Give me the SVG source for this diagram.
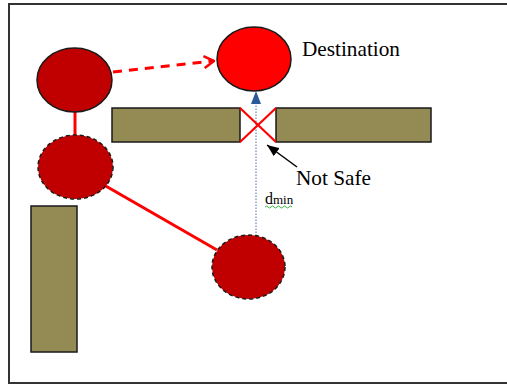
<svg xmlns="http://www.w3.org/2000/svg" width="507" height="385" viewBox="0 0 507 385">
<style>
.bar{fill:#948a54;stroke:#1a1a1a;stroke-width:1.5}
.robot{fill:#c00000;stroke:#1a1a1a;stroke-width:1.5}
.ghost{fill:#c00000;stroke:#1a1a1a;stroke-width:1.5;stroke-dasharray:4 3}
.lbl{font-family:"Liberation Serif","Times New Roman",serif;fill:#000}
</style>
<defs>
<marker id="open" viewBox="0 0 12 14" refX="11" refY="7" markerWidth="12" markerHeight="14" markerUnits="userSpaceOnUse" orient="auto">
<path d="M1,1 L11,7 L1,13" fill="none" stroke="#ff0000" stroke-width="2.5"/>
</marker>
<marker id="blk" viewBox="0 0 12 10" refX="12" refY="5" markerWidth="12" markerHeight="10" markerUnits="userSpaceOnUse" orient="auto">
<path d="M0,0 L12,5 L0,10 Z" fill="#000"/>
</marker>
</defs>
<rect x="9" y="4" width="510" height="379" fill="#fff" stroke="#333" stroke-width="2"/>
<g id="obstacles">
<rect class="bar" x="112" y="108" width="128" height="34"/>
<rect class="bar" x="276" y="108" width="155" height="34"/>
<rect class="bar" x="31" y="206" width="46" height="146"/>
</g>
<g id="connectors">
<line x1="113" y1="72" x2="214" y2="61" stroke="#ff0000" stroke-width="3" stroke-dasharray="9 7" marker-end="url(#open)"/>
<line x1="75" y1="112" x2="75" y2="135" stroke="#ff0000" stroke-width="3"/>
<line x1="104" y1="185" x2="217" y2="250" stroke="#ff0000" stroke-width="3"/>
<line x1="256" y1="236" x2="256" y2="104" stroke="#4a6fa5" stroke-width="1" stroke-dasharray="1.5 1.5"/>
<path d="M256,91 L261,104 L251,104 Z" fill="#2a5a9a"/>
<line x1="297" y1="167" x2="267" y2="145" stroke="#000" stroke-width="1.5" marker-end="url(#blk)"/>
</g>
<g id="notsafe-x">
<line x1="240" y1="108" x2="276" y2="142" stroke="#ff0000" stroke-width="2.2"/>
<line x1="240" y1="142" x2="276" y2="108" stroke="#ff0000" stroke-width="2.2"/>
</g>
<g id="start"><ellipse class="robot" cx="74.5" cy="80" rx="37.5" ry="32"/></g>
<g id="destination"><ellipse cx="254" cy="59" rx="37" ry="32" fill="#ff0000" stroke="#1a1a1a" stroke-width="1.5"/></g>
<g id="pos2"><ellipse class="ghost" cx="75.5" cy="167" rx="37.5" ry="32"/></g>
<g id="pos3"><ellipse class="ghost" cx="248.5" cy="267" rx="36.5" ry="32"/></g>
<g id="labels">
<text class="lbl" x="265" y="204" font-size="16">d<tspan font-size="13">min</tspan></text>
<text class="lbl" x="302" y="56" font-size="21" textLength="98" lengthAdjust="spacingAndGlyphs">Destination</text>
<text class="lbl" x="296" y="185" font-size="21" textLength="75" lengthAdjust="spacingAndGlyphs">Not Safe</text>
<path d="M265,207 q1.5,-2 3,0 t3,0 t3,0 t3,0 t3,0 t3,0 t3,0 t3,0 t3,0" fill="none" stroke="#3cb043" stroke-width="1"/>
</g>
</svg>
